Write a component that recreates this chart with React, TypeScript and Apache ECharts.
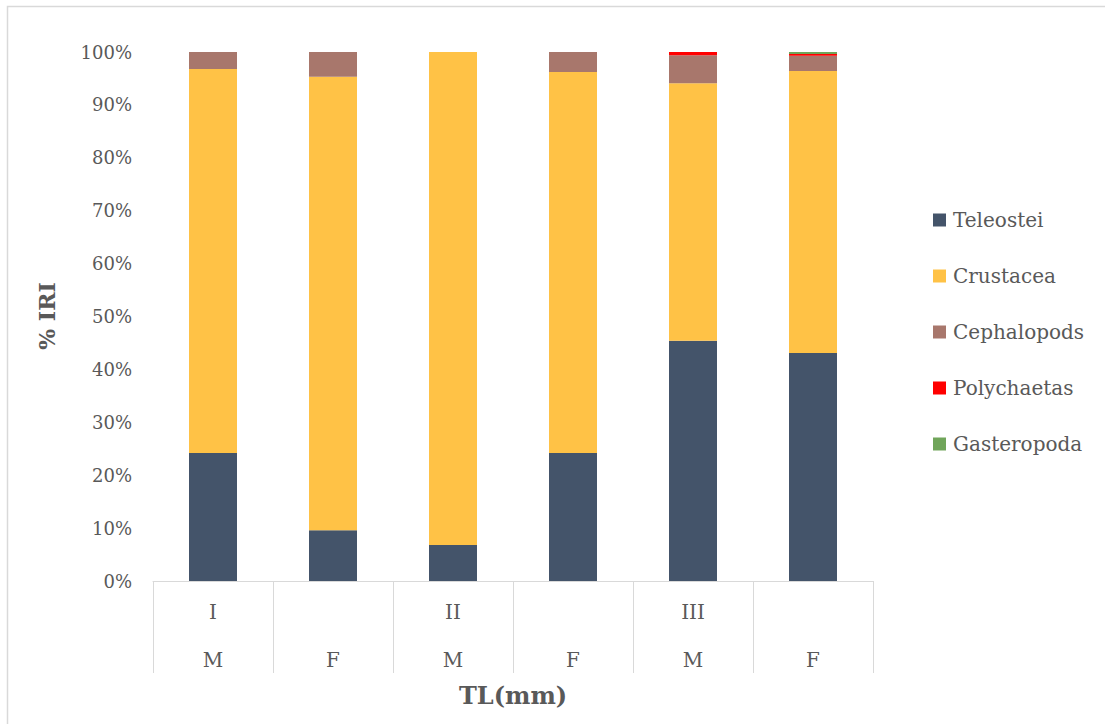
import React, { useEffect, useRef } from "react";
import * as echarts from "echarts";

// Size classes (upper label row) and sex (lower label row)
const sizeClasses = ["I", "", "II", "", "III", ""];
const sexes = ["M", "F", "M", "F", "M", "F"];

// %IRI of each prey group per size class / sex
const teleostei = [24.2, 9.6, 6.8, 24.2, 45.4, 43.1];
const crustacea = [72.6, 85.7, 93.2, 72.0, 48.7, 53.3];
const cephalopods = [3.2, 4.7, 0, 3.8, 5.3, 2.9];
const polychaetas = [0, 0, 0, 0, 0.6, 0.3];
const gasteropoda = [0, 0, 0, 0, 0, 0.4];

const yTicks = [0, 10, 20, 30, 40, 50, 60, 70, 80, 90, 100];

const FONT = "DejaVu Serif";
const TEXT = "#595959";
const LINE = "#d9d9d9";

export default function App() {
  const ref = useRef<HTMLDivElement>(null);

  useEffect(() => {
    if (!ref.current) return;
    const chart = echarts.init(ref.current, undefined, { renderer: "svg" });

    const categories = sizeClasses.map((s, i) => `${s}\n${sexes[i]}`);

    const mk = (name: string, data: number[], color: string) => ({
      name,
      type: "bar",
      stack: "iri",
      data,
      barWidth: "40%",
      itemStyle: { color },
    });

    chart.setOption({
      animation: false,
      backgroundColor: "#ffffff",
      grid: { left: 153, right: 232, top: 52, bottom: 143 },
      legend: {
        orient: "vertical",
        left: 928,
        top: 205,
        icon: "rect",
        itemWidth: 13,
        itemHeight: 13,
        itemGap: 36,
        textStyle: {
          fontFamily: FONT,
          fontSize: 20,
          color: TEXT,
          lineHeight: 20,
          padding: [0, 0, 0, 2],
        },
        data: ["Teleostei", "Crustacea", "Cephalopods", "Polychaetas", "Gasteropoda"],
      },
      xAxis: {
        type: "category",
        data: categories,
        axisLine: { show: true, lineStyle: { color: LINE, width: 1 } },
        axisTick: {
          show: true,
          interval: 0,
          length: 92,
          lineStyle: { color: LINE, width: 1 },
        },
        axisLabel: {
          interval: 0,
          margin: 7,
          fontFamily: FONT,
          fontSize: 20,
          color: TEXT,
          lineHeight: 48,
        },
      },
      yAxis: {
        type: "value",
        min: 0,
        max: 100,
        interval: 10,
        splitLine: { show: false },
        axisLine: { show: false },
        axisTick: { show: false },
        axisLabel: {
          margin: 21,
          fontFamily: FONT,
          fontSize: 18,
          color: TEXT,
          formatter: (v: number) => (yTicks.includes(v) ? `${v}%` : ""),
        },
      },
      series: [
        mk("Teleostei", teleostei, "#44546A"),
        mk("Crustacea", crustacea, "#FFC246"),
        mk("Cephalopods", cephalopods, "#A8776C"),
        mk("Polychaetas", polychaetas, "#FF0000"),
        mk("Gasteropoda", gasteropoda, "#70A55A"),
      ],
      graphic: [
        {
          type: "rect",
          shape: { x: 7.5, y: 6.5, width: 1300, height: 900 },
          style: { fill: "none", stroke: LINE, lineWidth: 1.5 },
          silent: true,
        },
        {
          type: "text",
          x: 47,
          y: 316,
          rotation: Math.PI / 2,
          style: {
            text: "% IRI",
            fontFamily: FONT,
            fontSize: 22,
            fontWeight: "bold",
            fill: TEXT,
            align: "center",
            verticalAlign: "middle",
          },
        },
        {
          type: "text",
          x: 513,
          y: 695,
          style: {
            text: "TL(mm)",
            fontFamily: FONT,
            fontSize: 24,
            fontWeight: "bold",
            fill: TEXT,
            align: "center",
            verticalAlign: "middle",
          },
        },
      ],
    });

    return () => chart.dispose();
  }, []);

  return (
    <div
      ref={ref}
      style={{ position: "fixed", left: 0, top: 0, width: 1105, height: 724, background: "#fff" }}
    />
  );
}
